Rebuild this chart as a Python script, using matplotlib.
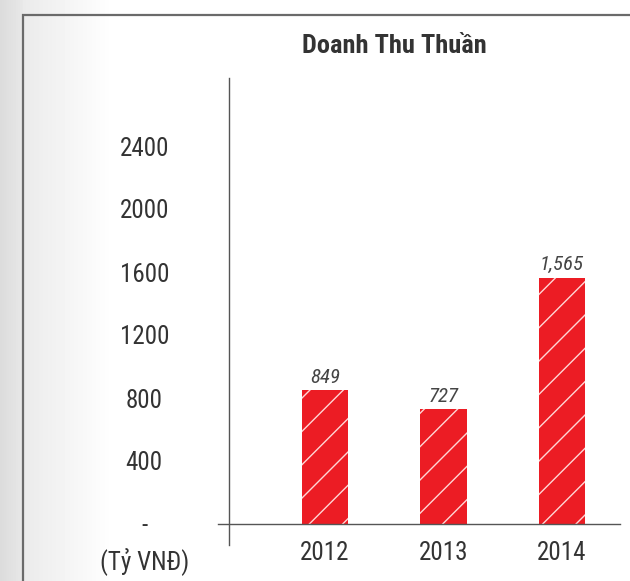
import matplotlib
matplotlib.use("Agg")
import matplotlib.pyplot as plt
import numpy as np

# data
years = ["2012", "2013", "2014"]
revenue = [849, 727, 1565]
ytick_vals = [0, 400, 800, 1200, 1600, 2000, 2400]
ytick_labels = ["-", "400", "800", "1200", "1600", "2000", "2400"]
title = "Doanh Thu Thuần"
unit = "(Tỷ VNĐ)"

plt.rcParams['font.family'] = ['Roboto Condensed', 'Archivo Narrow', 'DejaVu Sans']
plt.rcParams['hatch.color'] = '#ffd6d6'
plt.rcParams['hatch.linewidth'] = 1.0
title_fonts = ['Roboto Condensed', 'Barlow Semi Condensed', 'DejaVu Sans']

W, H = 630, 581
fig = plt.figure(figsize=(W / 100, H / 100), dpi=100)

# background: grey gradient on the left, white panel with a grey border
bg = fig.add_axes([0, 0, 1, 1])
bg.axis('off')
xs = np.arange(W)
g = np.where(xs < 23, 0.86 + 0.05 * xs / 23, np.clip(0.92 + 0.08 * (xs - 23) / 90, 0, 1))
bg.imshow(np.tile(g, (H, 1)), cmap='gray', vmin=0, vmax=1, aspect='auto',
          extent=[0, W, H, 0], interpolation='bilinear')
bg.plot([23, 23, W + 10], [H + 10, 15, 15], color='#6a6a6a', lw=1.6, solid_joinstyle='miter')
bg.set_xlim(0, W)
bg.set_ylim(H, 0)

# main plot area (pixel layout of the reference)
px_per_unit = 0.1575
ax = fig.add_axes([229 / W, (H - 524) / H, 391 / W, 446 / H])
ax.patch.set_alpha(0)
ax.set_ylim(0, 446 / px_per_unit)
ax.set_xlim(-0.81, 2.49)
for s in ax.spines.values():
    s.set_visible(False)

x = np.arange(len(years))
ax.bar(x, revenue, width=0.39, color='#ec1c24', hatch='/', linewidth=0, zorder=2)

for xi, v in zip(x, revenue):
    ax.text(xi, v + 22, f"{v:,}", ha='center', va='bottom', fontsize=15,
            style='italic', color='#454545')

# axis lines
ax.plot([0, 0], [-21 / 446, 1], transform=ax.transAxes, color='#555555', lw=1,
        clip_on=False)
ax.plot([-11 / 391, 1], [0, 0], transform=ax.transAxes, color='#555555', lw=1,
        clip_on=False)

ax.set_xticks(x, years)
ax.set_yticks(ytick_vals, ytick_labels)
ax.tick_params(axis='x', length=0, pad=12, labelsize=18, labelcolor='#333333')
ax.tick_params(axis='y', length=0, pad=61, labelsize=18, labelcolor='#333333')
for lab in ax.get_yticklabels():
    lab.set_horizontalalignment('center')

fig.text(394 / W, 1 - 46 / H, title, ha='center', va='center', fontsize=19,
         fontweight='bold', color='#333333', family=title_fonts)
fig.text(145 / W, 1 - 561 / H, unit, ha='center', va='center', fontsize=18,
         color='#333333')

fig.savefig("out.png", dpi=100)
